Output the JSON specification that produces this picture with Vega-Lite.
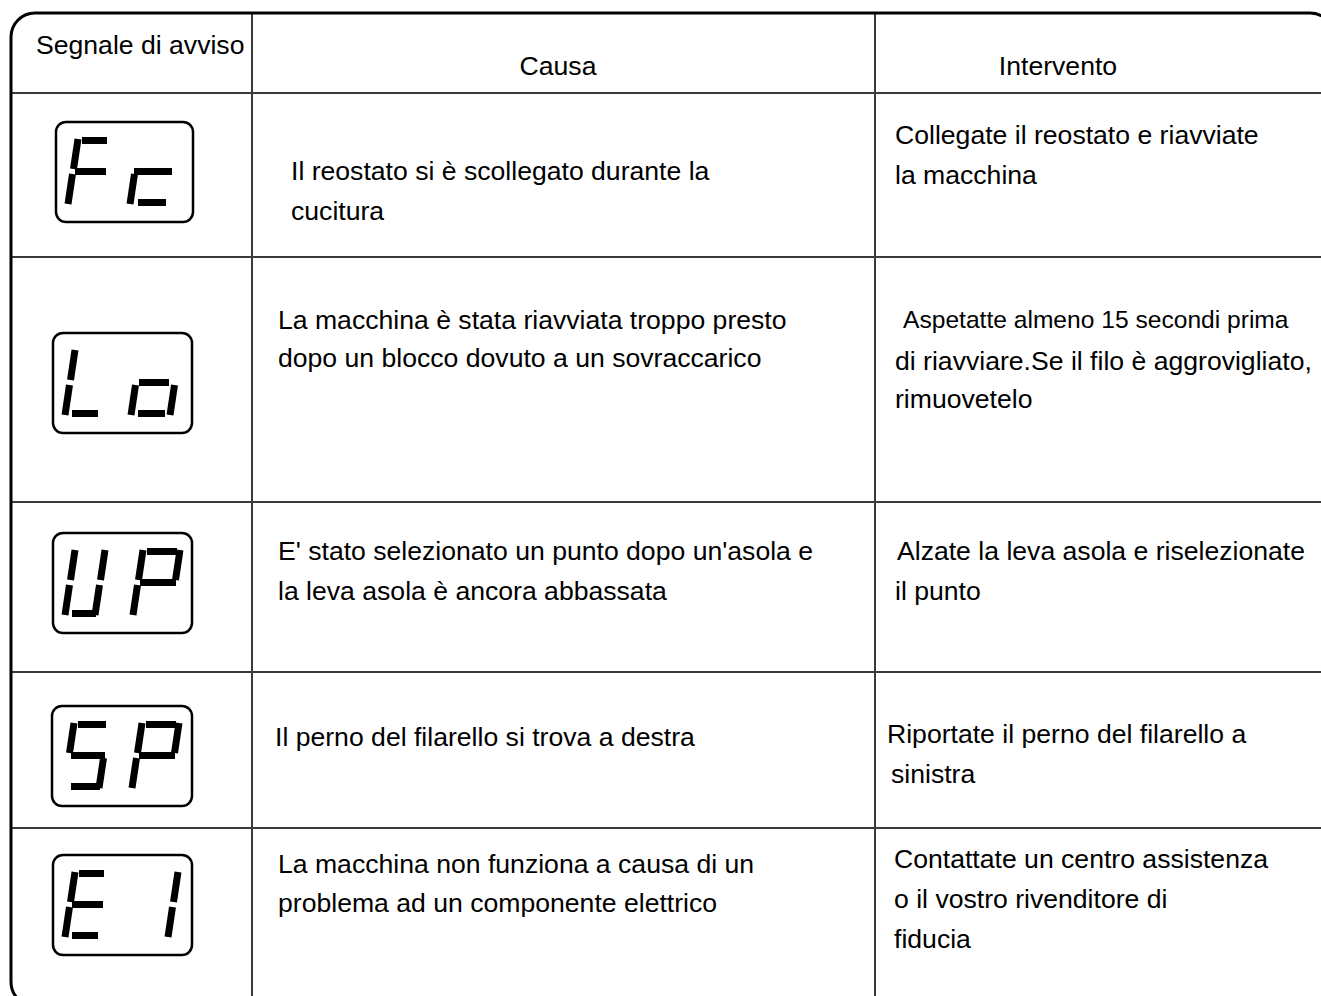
{
  "$schema": "https://vega.github.io/schema/vega-lite/v6.json",
  "width": 1321,
  "height": 996,
  "padding": 0,
  "autosize": {"type": "none"},
  "background": "white",
  "config": {"view": {"stroke": null}},
  "datasets": {
    "frame": [{"x": 11, "y": 13, "x2": 1334, "y2": 1006}],
    "grid": [
      {"x": 252, "y": 13, "x2": 252, "y2": 1000},
      {"x": 875, "y": 13, "x2": 875, "y2": 1000},
      {"x": 11, "y": 93, "x2": 1330, "y2": 93},
      {"x": 11, "y": 257, "x2": 1330, "y2": 257},
      {"x": 11, "y": 502, "x2": 1330, "y2": 502},
      {"x": 11, "y": 672, "x2": 1330, "y2": 672},
      {"x": 11, "y": 828, "x2": 1330, "y2": 828}
    ],
    "boxes": [
      {"code": "Fc", "x": 56, "y": 122, "x2": 193, "y2": 222},
      {"code": "Lo", "x": 53, "y": 333, "x2": 192, "y2": 433},
      {"code": "UP", "x": 53, "y": 533, "x2": 192, "y2": 633},
      {"code": "SP", "x": 52, "y": 706, "x2": 192, "y2": 806},
      {"code": "E1", "x": 53, "y": 855, "x2": 192, "y2": 955}
    ],
    "segments": [
      {"code": "Fc", "x": 82, "y": 140.5, "x2": 107, "y2": 140.5},
      {"code": "Fc", "x": 78, "y": 139, "x2": 73.5, "y2": 169},
      {"code": "Fc", "x": 75, "y": 171.5, "x2": 106, "y2": 171.5},
      {"code": "Fc", "x": 72.5, "y": 174, "x2": 68, "y2": 204},
      {"code": "Fc", "x": 134, "y": 171.5, "x2": 172, "y2": 171.5},
      {"code": "Fc", "x": 134.5, "y": 174, "x2": 130, "y2": 204},
      {"code": "Fc", "x": 138, "y": 202.5, "x2": 166, "y2": 202.5},
      {"code": "Lo", "x": 75, "y": 350, "x2": 70.5, "y2": 380},
      {"code": "Lo", "x": 69.5, "y": 385, "x2": 65, "y2": 415},
      {"code": "Lo", "x": 72, "y": 413.5, "x2": 98, "y2": 413.5},
      {"code": "Lo", "x": 139, "y": 382.5, "x2": 169, "y2": 382.5},
      {"code": "Lo", "x": 174.5, "y": 385, "x2": 170, "y2": 415},
      {"code": "Lo", "x": 138, "y": 413.5, "x2": 165, "y2": 413.5},
      {"code": "Lo", "x": 135.5, "y": 385, "x2": 131, "y2": 415},
      {"code": "UP", "x": 75, "y": 550, "x2": 70.5, "y2": 580},
      {"code": "UP", "x": 69.5, "y": 585, "x2": 65, "y2": 615},
      {"code": "UP", "x": 72, "y": 613.5, "x2": 96, "y2": 613.5},
      {"code": "UP", "x": 105, "y": 550, "x2": 100.5, "y2": 580},
      {"code": "UP", "x": 99.5, "y": 585, "x2": 95, "y2": 615},
      {"code": "UP", "x": 147, "y": 551.5, "x2": 177, "y2": 551.5},
      {"code": "UP", "x": 180, "y": 550, "x2": 175.5, "y2": 580},
      {"code": "UP", "x": 143, "y": 550, "x2": 138.5, "y2": 580},
      {"code": "UP", "x": 140, "y": 582.5, "x2": 176, "y2": 582.5},
      {"code": "UP", "x": 137.5, "y": 585, "x2": 133, "y2": 615},
      {"code": "SP", "x": 78, "y": 724.5, "x2": 106, "y2": 724.5},
      {"code": "SP", "x": 74, "y": 723, "x2": 69.5, "y2": 753},
      {"code": "SP", "x": 71, "y": 755.5, "x2": 105, "y2": 755.5},
      {"code": "SP", "x": 103.5, "y": 758, "x2": 99, "y2": 788},
      {"code": "SP", "x": 71, "y": 786.5, "x2": 100, "y2": 786.5},
      {"code": "SP", "x": 146, "y": 724.5, "x2": 176, "y2": 724.5},
      {"code": "SP", "x": 179, "y": 723, "x2": 174.5, "y2": 753},
      {"code": "SP", "x": 142, "y": 723, "x2": 137.5, "y2": 753},
      {"code": "SP", "x": 139, "y": 755.5, "x2": 175, "y2": 755.5},
      {"code": "SP", "x": 136.5, "y": 758, "x2": 132, "y2": 788},
      {"code": "E1", "x": 79, "y": 873.5, "x2": 104, "y2": 873.5},
      {"code": "E1", "x": 75, "y": 872, "x2": 70.5, "y2": 902},
      {"code": "E1", "x": 72, "y": 904.5, "x2": 103, "y2": 904.5},
      {"code": "E1", "x": 69.5, "y": 907, "x2": 65, "y2": 937},
      {"code": "E1", "x": 72, "y": 935.5, "x2": 98, "y2": 935.5},
      {"code": "E1", "x": 178, "y": 872, "x2": 173.5, "y2": 902},
      {"code": "E1", "x": 172.5, "y": 907, "x2": 168, "y2": 937}
    ],
    "textsLeft": [
      {"x": 36, "y": 46, "text": "Segnale di avviso"},
      {"x": 291, "y": 172, "text": "Il reostato si è scollegato durante la"},
      {"x": 291, "y": 212, "text": "cucitura"},
      {"x": 895, "y": 136, "text": "Collegate il reostato e riavviate"},
      {"x": 895, "y": 176, "text": "la macchina"},
      {"x": 278, "y": 321, "text": "La macchina è stata riavviata troppo presto"},
      {"x": 278, "y": 359, "text": "dopo un blocco dovuto a un sovraccarico"},
      {"x": 895, "y": 362, "text": "di riavviare.Se il filo è aggrovigliato,"},
      {"x": 895, "y": 400, "text": "rimuovetelo"},
      {"x": 278, "y": 552, "text": "E' stato selezionato un punto dopo un'asola e"},
      {"x": 278, "y": 592, "text": "la leva asola è ancora abbassata"},
      {"x": 897, "y": 552, "text": "Alzate la leva asola e riselezionate"},
      {"x": 895, "y": 592, "text": "il punto"},
      {"x": 275, "y": 738, "text": "Il perno del filarello si trova a destra"},
      {"x": 887, "y": 735, "text": "Riportate il perno del filarello a"},
      {"x": 891, "y": 775, "text": "sinistra"},
      {"x": 278, "y": 865, "text": "La macchina non funziona a causa di un"},
      {"x": 278, "y": 904, "text": "problema ad un componente elettrico"},
      {"x": 894, "y": 860, "text": "Contattate un centro assistenza"},
      {"x": 894, "y": 900, "text": "o il vostro rivenditore di"},
      {"x": 894, "y": 940, "text": "fiducia"}
    ],
    "textsNarrow": [
      {"x": 903, "y": 321, "text": "Aspetatte almeno 15 secondi prima"}
    ],
    "textsCenter": [
      {"x": 558, "y": 67, "text": "Causa"},
      {"x": 1058, "y": 67, "text": "Intervento"}
    ]
  },
  "layer": [
    {
      "data": {"name": "grid"},
      "mark": {"type": "rule", "stroke": "#3a3a3a", "strokeWidth": 2},
      "encoding": {
        "x": {"field": "x", "type": "quantitative", "axis": null, "scale": {"domain": [0, 1321], "nice": false, "zero": false}},
        "y": {"field": "y", "type": "quantitative", "axis": null, "scale": {"domain": [0, 996], "nice": false, "zero": false, "reverse": true}},
        "x2": {"field": "x2"},
        "y2": {"field": "y2"}
      }
    },
    {
      "data": {"name": "frame"},
      "mark": {"type": "rect", "filled": false, "stroke": "#000000", "strokeWidth": 3, "cornerRadius": 24},
      "encoding": {
        "x": {"field": "x", "type": "quantitative", "axis": null, "scale": {"domain": [0, 1321], "nice": false, "zero": false}},
        "y": {"field": "y", "type": "quantitative", "axis": null, "scale": {"domain": [0, 996], "nice": false, "zero": false, "reverse": true}},
        "x2": {"field": "x2"},
        "y2": {"field": "y2"}
      }
    },
    {
      "data": {"name": "boxes"},
      "mark": {"type": "rect", "filled": false, "stroke": "#000000", "strokeWidth": 2.5, "cornerRadius": 10},
      "encoding": {
        "x": {"field": "x", "type": "quantitative", "axis": null, "scale": {"domain": [0, 1321], "nice": false, "zero": false}},
        "y": {"field": "y", "type": "quantitative", "axis": null, "scale": {"domain": [0, 996], "nice": false, "zero": false, "reverse": true}},
        "x2": {"field": "x2"},
        "y2": {"field": "y2"}
      }
    },
    {
      "data": {"name": "segments"},
      "mark": {"type": "rule", "stroke": "#000000", "strokeWidth": 7, "strokeCap": "butt"},
      "encoding": {
        "x": {"field": "x", "type": "quantitative", "axis": null, "scale": {"domain": [0, 1321], "nice": false, "zero": false}},
        "y": {"field": "y", "type": "quantitative", "axis": null, "scale": {"domain": [0, 996], "nice": false, "zero": false, "reverse": true}},
        "x2": {"field": "x2"},
        "y2": {"field": "y2"}
      }
    },
    {
      "data": {"name": "textsLeft"},
      "mark": {"type": "text", "align": "left", "baseline": "middle", "font": "Liberation Sans", "fontSize": 26.6, "color": "#000000"},
      "encoding": {
        "x": {"field": "x", "type": "quantitative", "axis": null, "scale": {"domain": [0, 1321], "nice": false, "zero": false}},
        "y": {"field": "y", "type": "quantitative", "axis": null, "scale": {"domain": [0, 996], "nice": false, "zero": false, "reverse": true}},
        "text": {"field": "text"}
      }
    },
    {
      "data": {"name": "textsNarrow"},
      "mark": {"type": "text", "align": "left", "baseline": "middle", "font": "Liberation Sans", "fontSize": 24.6, "color": "#000000"},
      "encoding": {
        "x": {"field": "x", "type": "quantitative", "axis": null, "scale": {"domain": [0, 1321], "nice": false, "zero": false}},
        "y": {"field": "y", "type": "quantitative", "axis": null, "scale": {"domain": [0, 996], "nice": false, "zero": false, "reverse": true}},
        "text": {"field": "text"}
      }
    },
    {
      "data": {"name": "textsCenter"},
      "mark": {"type": "text", "align": "center", "baseline": "middle", "font": "Liberation Sans", "fontSize": 26.6, "color": "#000000"},
      "encoding": {
        "x": {"field": "x", "type": "quantitative", "axis": null, "scale": {"domain": [0, 1321], "nice": false, "zero": false}},
        "y": {"field": "y", "type": "quantitative", "axis": null, "scale": {"domain": [0, 996], "nice": false, "zero": false, "reverse": true}},
        "text": {"field": "text"}
      }
    }
  ]
}
